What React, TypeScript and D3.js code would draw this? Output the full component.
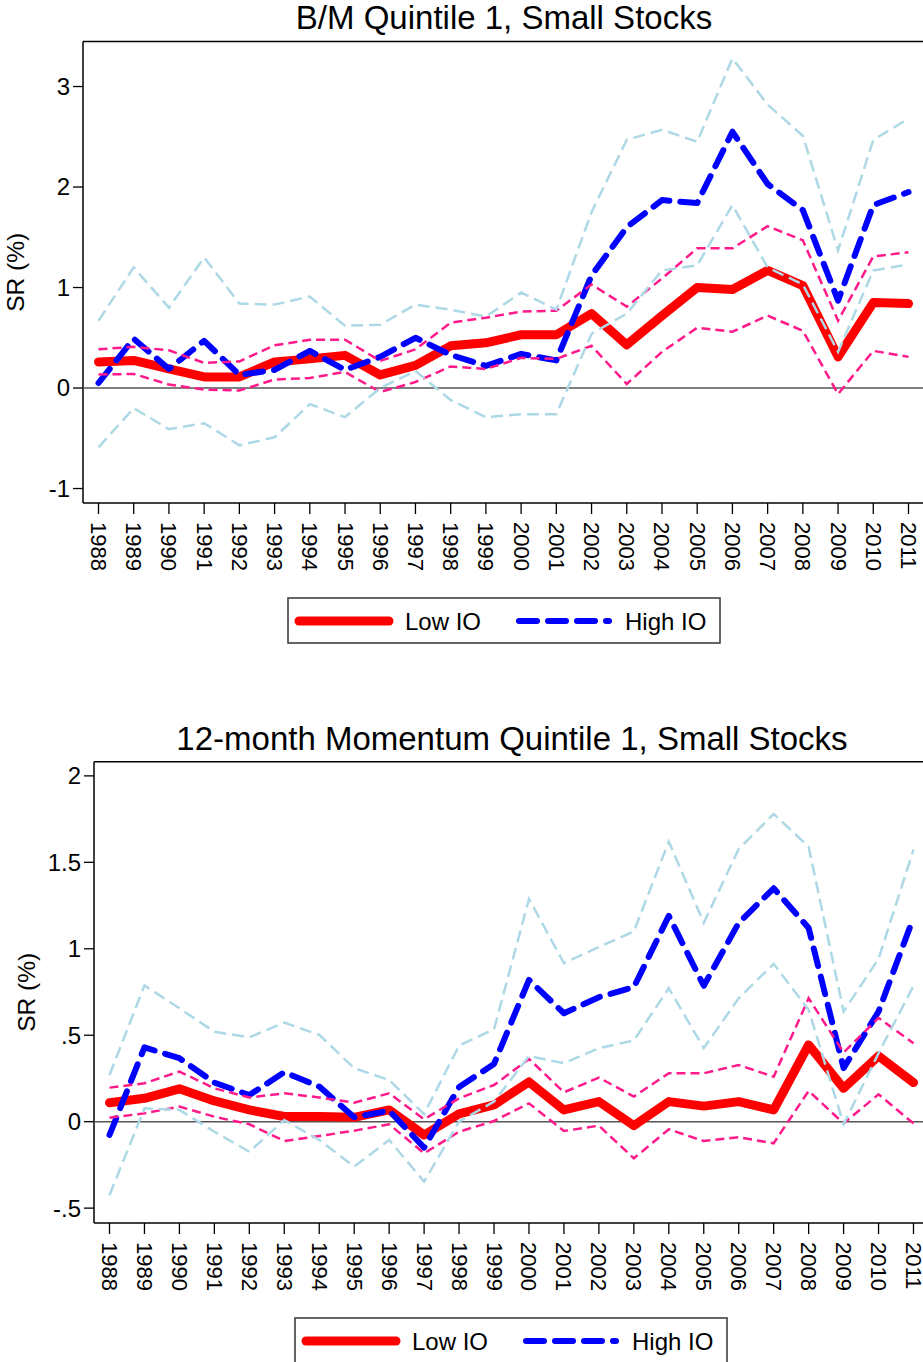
import * as d3 from 'd3';

// Years shown on the x axis
const YEARS = [
  1988, 1989, 1990, 1991, 1992, 1993, 1994, 1995, 1996, 1997, 1998, 1999,
  2000, 2001, 2002, 2003, 2004, 2005, 2006, 2007, 2008, 2009, 2010, 2011,
];

// Panel 1: B/M Quintile 1, Small Stocks
const BM_LOW = [0.26, 0.275, 0.19, 0.11, 0.11, 0.26, 0.29, 0.325, 0.13, 0.225, 0.42, 0.45, 0.53, 0.53, 0.74, 0.43, 0.72, 1.0, 0.98, 1.17, 1.02, 0.31, 0.85, 0.84];
const BM_HIGH = [0.05, 0.49, 0.19, 0.47, 0.13, 0.18, 0.37, 0.18, 0.31, 0.5, 0.33, 0.22, 0.34, 0.275, 1.12, 1.6, 1.87, 1.84, 2.55, 2.03, 1.77, 0.87, 1.82, 1.95];
const BM_LOW_UP = [0.385, 0.41, 0.375, 0.25, 0.265, 0.425, 0.48, 0.48, 0.27, 0.385, 0.65, 0.7, 0.76, 0.77, 1.03, 0.81, 1.09, 1.39, 1.39, 1.61, 1.47, 0.67, 1.31, 1.35];
const BM_LOW_LO = [0.135, 0.14, 0.035, -0.015, -0.025, 0.085, 0.1, 0.16, -0.04, 0.06, 0.215, 0.19, 0.3, 0.29, 0.42, 0.04, 0.36, 0.6, 0.56, 0.72, 0.57, -0.06, 0.37, 0.31];
const BM_HIGH_UP = [0.67, 1.2, 0.8, 1.3, 0.84, 0.83, 0.91, 0.62, 0.63, 0.83, 0.78, 0.71, 0.95, 0.78, 1.75, 2.47, 2.57, 2.45, 3.28, 2.82, 2.51, 1.37, 2.47, 2.68];
const BM_HIGH_LO = [-0.59, -0.2, -0.41, -0.35, -0.57, -0.49, -0.16, -0.29, 0.0, 0.17, -0.12, -0.29, -0.26, -0.26, 0.54, 0.74, 1.17, 1.22, 1.82, 1.2, 1.03, 0.36, 1.17, 1.23];
const BM_TICKS = [-1, 0, 1, 2, 3];
const BM_TICK_LABELS = ['-1', '0', '1', '2', '3'];

// Panel 2: 12-month Momentum Quintile 1, Small Stocks
const MOM_LOW = [0.11, 0.135, 0.19, 0.12, 0.068, 0.03, 0.03, 0.025, 0.068, -0.077, 0.045, 0.097, 0.23, 0.068, 0.116, -0.023, 0.116, 0.09, 0.116, 0.068, 0.444, 0.193, 0.38, 0.226];
const MOM_HIGH = [-0.077, 0.43, 0.367, 0.226, 0.154, 0.286, 0.203, 0.025, 0.064, -0.15, 0.2, 0.334, 0.82, 0.627, 0.72, 0.778, 1.19, 0.786, 1.15, 1.35, 1.12, 0.31, 0.637, 1.18];
const MOM_LOW_UP = [0.197, 0.222, 0.29, 0.193, 0.14, 0.164, 0.14, 0.11, 0.164, 0.014, 0.135, 0.212, 0.363, 0.17, 0.255, 0.145, 0.28, 0.28, 0.328, 0.26, 0.714, 0.4, 0.6, 0.454];
const MOM_LOW_LO = [0.023, 0.048, 0.087, 0.029, -0.015, -0.112, -0.083, -0.052, -0.015, -0.183, -0.058, 0.004, 0.106, -0.054, -0.023, -0.212, -0.044, -0.112, -0.09, -0.125, 0.178, -0.01, 0.158, -0.01];
const MOM_HIGH_UP = [0.27, 0.788, 0.656, 0.52, 0.488, 0.573, 0.502, 0.309, 0.241, 0.044, 0.44, 0.535, 1.288, 0.917, 1.01, 1.1, 1.62, 1.15, 1.577, 1.78, 1.59, 0.637, 0.942, 1.573];
const MOM_HIGH_LO = [-0.425, 0.077, 0.068, -0.058, -0.174, 0.01, -0.106, -0.26, -0.106, -0.347, 0.0, 0.116, 0.38, 0.338, 0.425, 0.47, 0.772, 0.425, 0.714, 0.913, 0.647, -0.015, 0.396, 0.786];
const MOM_TICKS = [-0.5, 0, 0.5, 1, 1.5, 2];
const MOM_TICK_LABELS = ['-.5', '0', '.5', '1', '1.5', '2'];

const W = 923;
const H = 1362;
const FONT = '"Liberation Sans", Arial, Helvetica, sans-serif';

const RED = '#ff0000';
const BLUE = '#0000ff';
const PINK = '#ff1a8c';
const LTBLUE = '#add8e6';

interface PanelProps {
  title: string;
  low: number[];
  high: number[];
  lowUp: number[];
  lowLo: number[];
  highUp: number[];
  highLo: number[];
  ticks: number[];
  tickLabels: string[];
  yDomain: [number, number];
  box: { left: number; right: number; top: number; bottom: number };
  titleX: number;
  titleY: number;
  legendX: number;
  legendY: number;
}

function Panel(p: PanelProps) {
  const { left, right, top, bottom } = p.box;
  const x = d3.scaleLinear([YEARS[0], YEARS[YEARS.length - 1]], [left + 15.5, right - 16.5]);
  const y = d3.scaleLinear(p.yDomain, [bottom, top]);

  const line = (vals: number[]) =>
    d3.line<number>()
      .x((_, i) => x(YEARS[i]))
      .y(v => y(v))(vals) ?? '';

  const midY = (top + bottom) / 2;

  return (
    <g>
      <text x={p.titleX} y={p.titleY} textAnchor="middle" fontSize={33} fontFamily={FONT} fill="#000">
        {p.title}
      </text>

      {/* frame */}
      <line x1={left} x2={right} y1={top} y2={top} stroke="#000" strokeWidth={1.5} />
      <line x1={left} x2={left} y1={top} y2={bottom} stroke="#000" strokeWidth={1.5} />
      <line x1={left} x2={right} y1={bottom} y2={bottom} stroke="#000" strokeWidth={1.5} />

      {/* zero reference */}
      <line x1={left} x2={right} y1={y(0)} y2={y(0)} stroke="#555" strokeWidth={1.5} />

      {/* y axis */}
      {p.ticks.map((t, i) => (
        <g key={t}>
          <line x1={left - 10} x2={left} y1={y(t)} y2={y(t)} stroke="#000" strokeWidth={1.3} />
          <text x={left - 13} y={y(t)} dy="0.35em" textAnchor="end" fontSize={24} fontFamily={FONT}>
            {p.tickLabels[i]}
          </text>
        </g>
      ))}
      <text
        transform={`translate(${left - 59},${midY}) rotate(-90)`}
        textAnchor="middle"
        fontSize={24.5}
        fontFamily={FONT}
      >
        SR (%)
      </text>

      {/* x axis */}
      {YEARS.map(yr => (
        <g key={yr}>
          <line x1={x(yr)} x2={x(yr)} y1={bottom} y2={bottom + 11} stroke="#000" strokeWidth={1.3} />
          <text
            transform={`translate(${x(yr)},${bottom + 19}) rotate(90)`}
            dominantBaseline="central"
            fontSize={22}
            fontFamily={FONT}
          >
            {yr}
          </text>
        </g>
      ))}

      {/* series */}
      <path d={line(p.low)} fill="none" stroke={RED} strokeWidth={9} strokeLinejoin="round" strokeLinecap="round" />
      <path d={line(p.high)} fill="none" stroke={BLUE} strokeWidth={6} strokeDasharray="18 11" strokeLinejoin="round" strokeLinecap="round" />
      <path d={line(p.lowUp)} fill="none" stroke={PINK} strokeWidth={2.5} strokeDasharray="9 5" />
      <path d={line(p.lowLo)} fill="none" stroke={PINK} strokeWidth={2.5} strokeDasharray="9 5" />
      <path d={line(p.highUp)} fill="none" stroke={LTBLUE} strokeWidth={2.5} strokeDasharray="12 6" />
      <path d={line(p.highLo)} fill="none" stroke={LTBLUE} strokeWidth={2.5} strokeDasharray="12 6" />

      {/* legend */}
      <g transform={`translate(${p.legendX},${p.legendY})`}>
        <rect x={0} y={0} width={432} height={45} fill="#fff" stroke="#333" strokeWidth={1.5} />
        <line x1={11} x2={101} y1={23} y2={23} stroke={RED} strokeWidth={9} strokeLinecap="round" />
        <text x={117} y={32} fontSize={24} fontFamily={FONT}>Low IO</text>
        <line x1={231} x2={321} y1={23} y2={23} stroke={BLUE} strokeWidth={6} strokeDasharray="18 11" strokeLinecap="round" />
        <text x={337} y={32} fontSize={24} fontFamily={FONT}>High IO</text>
      </g>
    </g>
  );
}

export default function App() {
  return (
    <svg
      width={W}
      height={H}
      viewBox={`0 0 ${W} ${H}`}
      style={{ position: 'absolute', left: 0, top: 0, background: '#fff' }}
    >
      <rect width={W} height={H} fill="#fff" />
      <Panel
        title="B/M Quintile 1, Small Stocks"
        low={BM_LOW}
        high={BM_HIGH}
        lowUp={BM_LOW_UP}
        lowLo={BM_LOW_LO}
        highUp={BM_HIGH_UP}
        highLo={BM_HIGH_LO}
        ticks={BM_TICKS}
        tickLabels={BM_TICK_LABELS}
        yDomain={[-1.144, 3.448]}
        box={{ left: 83, right: 925, top: 41.5, bottom: 503 }}
        titleX={504}
        titleY={29}
        legendX={288}
        legendY={598}
      />
      <Panel
        title="12-month Momentum Quintile 1, Small Stocks"
        low={MOM_LOW}
        high={MOM_HIGH}
        lowUp={MOM_LOW_UP}
        lowLo={MOM_LOW_LO}
        highUp={MOM_HIGH_UP}
        highLo={MOM_HIGH_LO}
        ticks={MOM_TICKS}
        tickLabels={MOM_TICK_LABELS}
        yDomain={[-0.586, 2.082]}
        box={{ left: 94, right: 930, top: 761.7, bottom: 1223 }}
        titleX={512}
        titleY={750}
        legendX={295}
        legendY={1318}
      />
    </svg>
  );
}
